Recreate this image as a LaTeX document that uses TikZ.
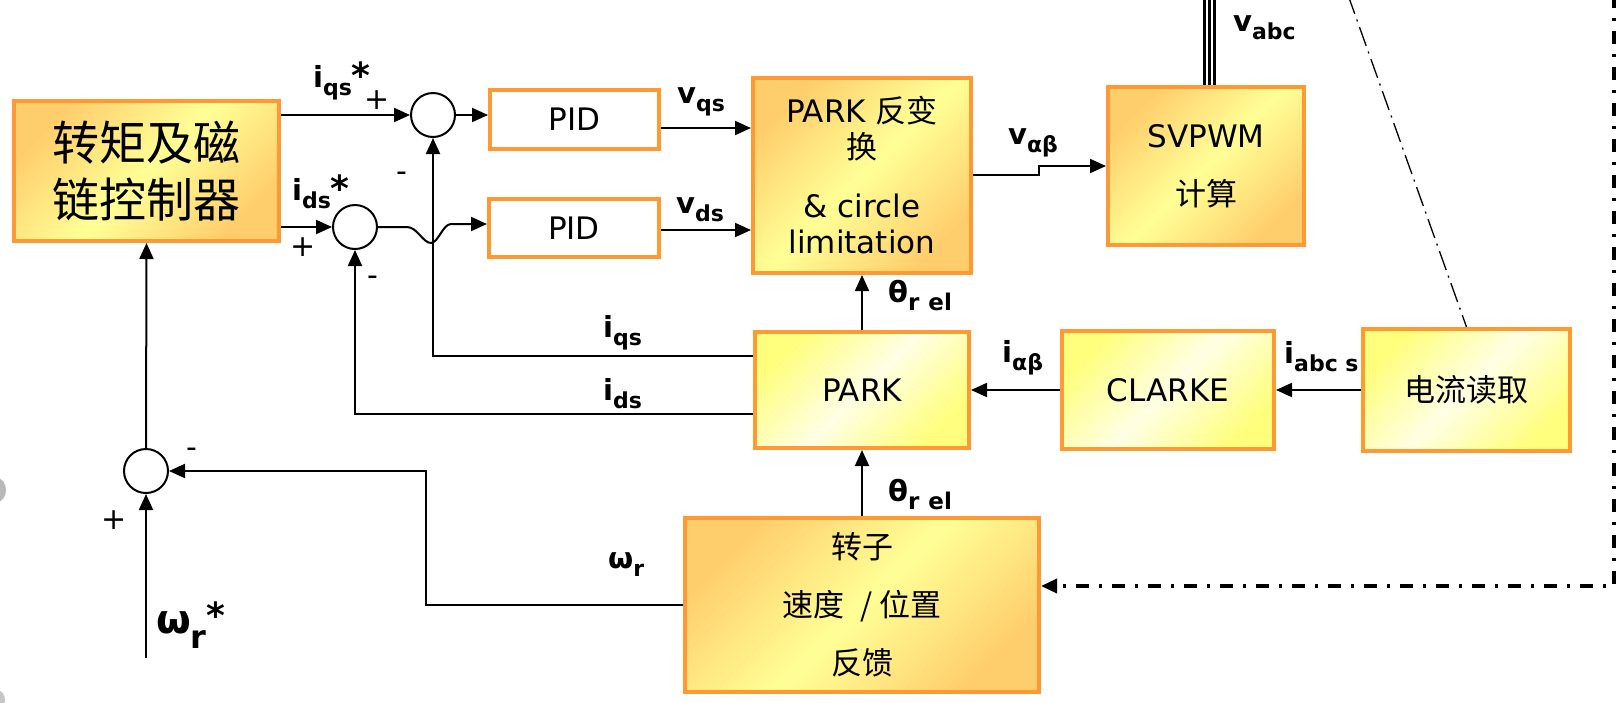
\documentclass[tikz,border=0pt]{standalone}
\usepackage{fontspec}
\setmainfont{DejaVu Sans}
\newfontfamily\cjk{Noto Sans CJK SC}
\usetikzlibrary{arrows.meta}
\definecolor{boxorange}{RGB}{255,153,51}
\definecolor{warmedge}{RGB}{255,206,108}
\definecolor{warmmid}{RGB}{255,255,150}
\definecolor{lightedge}{RGB}{255,255,125}
\definecolor{lightmid}{RGB}{255,255,228}
\newcommand\sg[2]{{\fontsize{29}{29}\selectfont #1}\raisebox{-8pt}{\fontsize{22}{22}\selectfont #2}}
\newcommand\sgth{{\fontsize{29}{29}\selectfont θ}\raisebox{-8pt}{\fontsize{23}{23}\selectfont r\hspace{9pt}el}}
\newcommand\sgst[2]{\sg{#1}{#2}\raisebox{-1pt}{\fontsize{36}{36}\selectfont *}}
\begin{document}
\begin{tikzpicture}[x=1pt,y=-1pt,
  obox/.style={draw=boxorange, line width=4pt, inner sep=0pt, align=center, font=\fontsize{31}{37}\selectfont},
  warmbox/.style={obox, top color=warmedge, bottom color=warmedge, middle color=warmmid, shading angle=45},
  lightbox/.style={obox, top color=lightedge, bottom color=lightedge, middle color=lightmid, shading angle=45},
  plainbox/.style={obox, fill=white},
  sumcirc/.style={circle, draw, line width=2pt, minimum size=44pt, inner sep=0pt, fill=white},
  conn/.style={line width=2pt},
  arrw/.style={conn, -{Triangle[length=16pt,width=14pt]}},
  siglbl/.style={font=\bfseries, inner sep=0pt, anchor=base west},
  signlbl/.style={font=\fontsize{30}{30}\selectfont, inner sep=0pt},
  bigdash/.style={line width=3.5pt, dash pattern=on 13pt off 10pt on 3pt off 10pt},
  thindash/.style={line width=1.3pt, dash pattern=on 20pt off 6pt on 2pt off 6pt}
]
\useasboundingbox (0,0) rectangle (1624,702);
\fill[white] (0,0) rectangle (1624,702);
\fill[gray!55] (-3,490) ellipse [x radius=9pt, y radius=12pt];
\fill[gray!45] (-3,700) ellipse [x radius=8pt, y radius=10pt];

% blocks
\node[warmbox, minimum width=265pt, minimum height=140pt, font=\cjk\fontsize{47}{57}\selectfont] (torque) at (146.5,171) {转矩及磁\\链控制器};
\node[plainbox, minimum width=169pt, minimum height=59pt] (pid1) at (574.5,119.5) {PID};
\node[plainbox, minimum width=170pt, minimum height=58pt] (pid2) at (574,228) {PID};
\node[warmbox, minimum width=218pt, minimum height=195pt, font=\fontsize{31}{36}\selectfont] (parkinv) at (862,175.5) {PARK {\cjk 反变}\\{\cjk 换}\\[23pt]\& circle\\limitation};
\node[warmbox, minimum width=196pt, minimum height=158pt, font=\fontsize{31}{58}\selectfont] (svpwm) at (1206,166) {SVPWM\\{\cjk 计算}};
\node[lightbox, minimum width=214pt, minimum height=116pt] (park) at (862,390) {PARK};
\node[lightbox, minimum width=212pt, minimum height=118pt] (clarke) at (1168,390) {CLARKE};
\node[lightbox, minimum width=207pt, minimum height=122pt, font=\cjk\fontsize{31}{37}\selectfont] (dianliu) at (1466.5,390) {电流读取};
\node[warmbox, minimum width=354pt, minimum height=174pt, font=\cjk\fontsize{31}{58}\selectfont] (rotor) at (862,605) {转子\\速度\hspace{16pt}/\hspace{6pt}位置\\反馈};

% summing junctions
\node[sumcirc] (sq) at (433,115) {};
\node[sumcirc] (sd) at (355,227) {};
\node[sumcirc] (sw) at (146,471) {};

% helper coordinates
\coordinate (h1) at (407,227);
\coordinate (hopend) at (451,224);
\coordinate (vq) at (700,128);
\coordinate (vd) at (700,230);
\coordinate (va1) at (1039,175);
\coordinate (va2) at (1039,166);
\coordinate (fq) at (433,356);
\coordinate (fd) at (355,414);
\coordinate (fw) at (426,605);
\coordinate (win) at (146,658);
\coordinate (dtop) at (1614,-5);
\coordinate (dcorner) at (1614,586);
\coordinate (diagtop) at (1348,-5);

% connectors
\draw[arrw] (torque.east |- sq) -- (sq.west);
\draw[arrw] (torque.east |- sd) -- (sd.west);
\draw[arrw] (sq.east) -- (pid1.west |- sq);
\draw[arrw] (sd.east) -- (h1) .. controls (417,227) and (423,243) .. (431,243) .. controls (438,243) and (443,224) .. (hopend) -- (pid2.west |- hopend);
\draw[arrw] (pid1.east |- vq) -- (parkinv.west |- vq);
\draw[arrw] (pid2.east |- vd) -- (parkinv.west |- vd);
\draw[arrw] (parkinv.east |- va1) -- (va1) -- (va2) -- (svpwm.west |- va2);
\foreach \dx in {-2,3,8} \draw[line width=3pt] ([xshift=\dx pt]svpwm.north) -- ++(0,-95);
\draw[arrw] (park.north) -- (parkinv.south);
\draw[arrw] (rotor.north) -- (park.south);
\draw[arrw] (clarke.west) -- (park.east);
\draw[arrw] (dianliu.west) -- (clarke.east);
\draw[arrw] (park.west |- fq) -- (fq) -- (sq.south);
\draw[arrw] (park.west |- fd) -- (fd) -- (sd.south);
\draw[arrw] (rotor.west |- fw) -- (fw) -- (fw |- sw) -- (sw.east);
\draw[arrw] (win) -- (sw.south);
\draw[arrw] (sw.north) -- (torque.south);
\draw[bigdash, -{Triangle[length=16pt,width=14pt]}] (dtop) -- (dcorner) -- (rotor.east |- dcorner);
\draw[thindash] (diagtop) -- (dianliu.north);

% signal labels
\node[siglbl] (l_iqsr) at (313,87) {\sgst{i}{qs}};
\node[siglbl] (l_idsr) at (292,200) {\sgst{i}{ds}};
\node[siglbl] (l_vqs) at (677,103) {\sg{v}{qs}};
\node[siglbl] (l_vds) at (676,213) {\sg{v}{ds}};
\node[siglbl] (l_vab) at (1008,144) {\sg{v}{αβ}};
\node[siglbl] (l_vabc) at (1233,31) {\sg{v}{abc}};
\node[siglbl] (l_th1) at (888,302) {\sgth};
\node[siglbl] (l_th2) at (888,501) {\sgth};
\node[siglbl] (l_iqs) at (603,337) {\sg{i}{qs}};
\node[siglbl] (l_ids) at (603,400) {\sg{i}{ds}};
\node[siglbl] (l_iab) at (1002,362) {\sg{i}{αβ}};
\node[siglbl] (l_iabc) at (1284,363) {\sg{i}{abc s}};
\node[siglbl] (l_wr) at (608,568) {\sg{ω}{r}};
\node[siglbl] (l_wrs) at (156,633) {{\fontsize{40}{40}\selectfont ω}\raisebox{-15pt}{\fontsize{32}{32}\selectfont r}\raisebox{5pt}{\fontsize{36}{36}\selectfont *}};

% signs
\node[signlbl] (s1) at (377,100) {+};
\node[signlbl] (s2) at (402,177) {-};
\node[signlbl] (s3) at (303,247) {+};
\node[signlbl] (s4) at (373,281) {-};
\node[signlbl] (s5) at (192,453) {-};
\node[signlbl] (s6) at (114,520) {+};
\end{tikzpicture}
\end{document}
